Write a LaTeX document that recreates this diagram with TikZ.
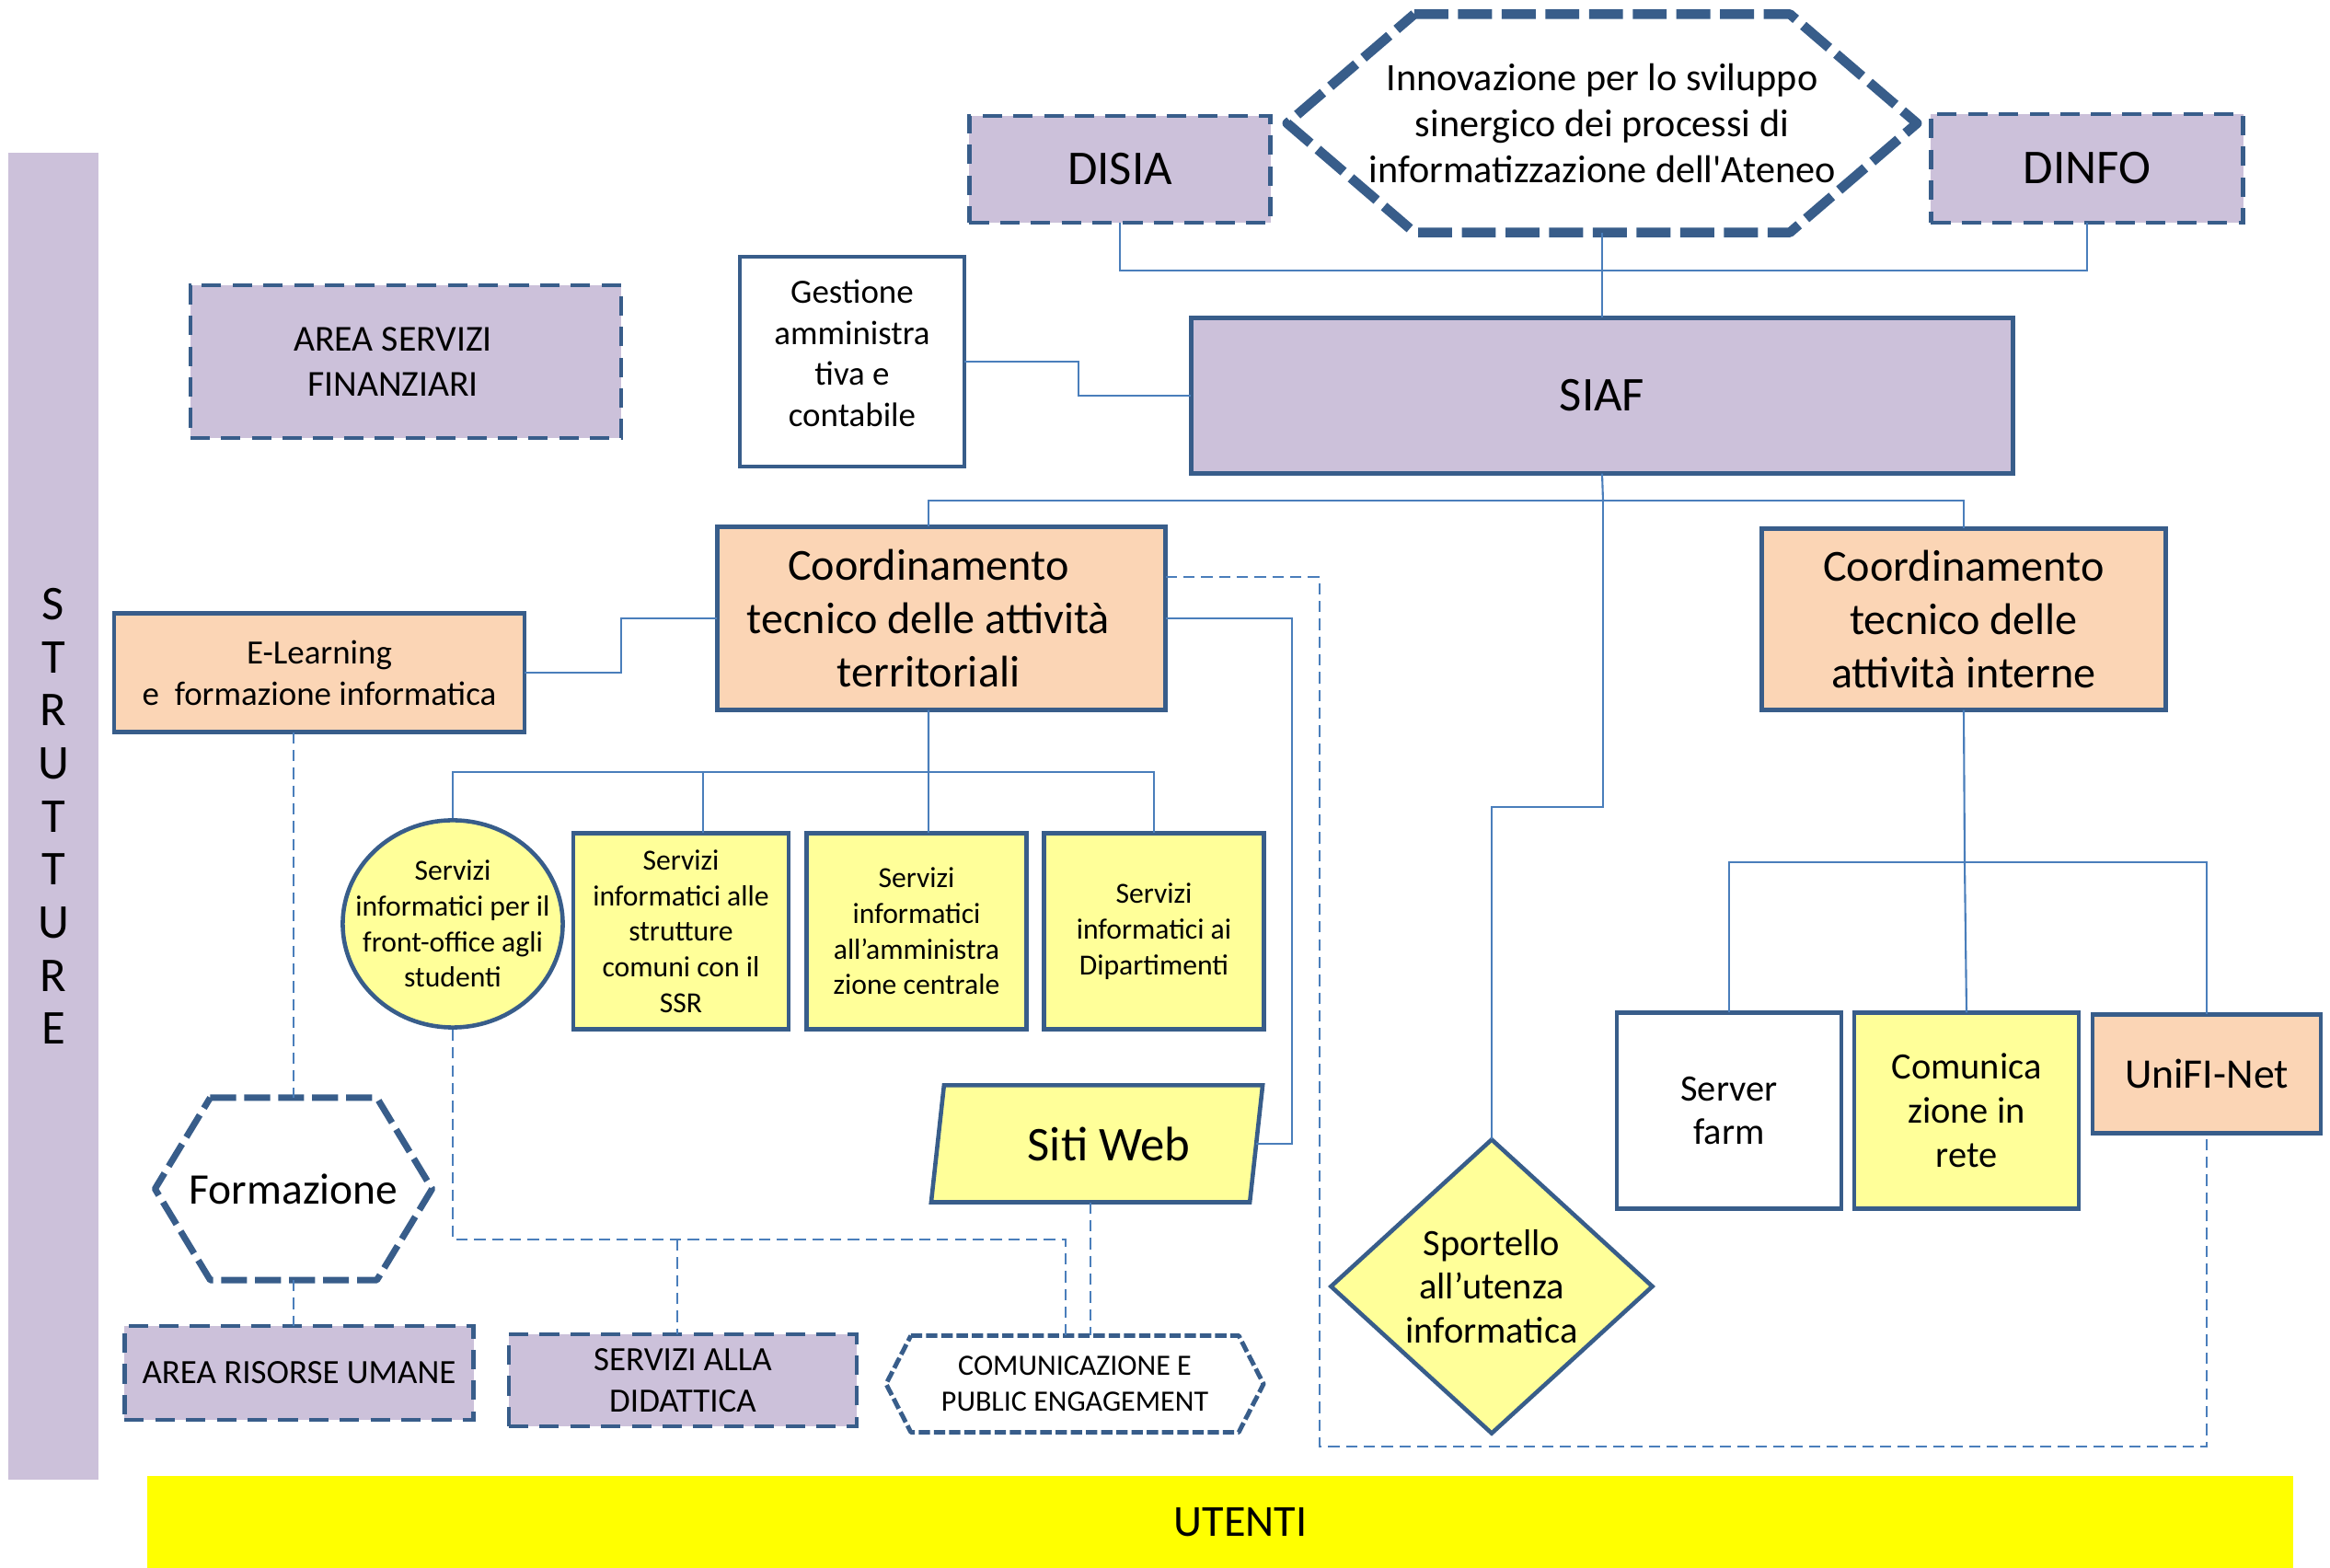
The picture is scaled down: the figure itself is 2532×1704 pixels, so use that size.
\documentclass[tikz,border=0pt]{standalone}
\usepackage{fontspec}
\setmainfont{Carlito}
\usepackage{tikz}
\usetikzlibrary{positioning}
\usetikzlibrary{shapes.geometric}
\usepackage{xcolor}

\definecolor{lilla}{HTML}{CCC1DA}
\definecolor{pesca}{HTML}{FBD5B5}
\definecolor{giallino}{HTML}{FFFF99}
\definecolor{giallo}{HTML}{FFFF00}
\definecolor{bordo}{HTML}{385D8A}
\definecolor{linea}{HTML}{4A7EBB}
\newcommand{\setfs}[2]{\fontsize{#1}{#2}\selectfont}

\begin{document}
\begin{tikzpicture}[x=0.01cm, y=-0.01cm,
    base/.style={align=center, inner sep=1pt, outer sep=0pt},
    box/.style={base, draw=bordo, line width=1.3pt},
    lilbox/.style={base, fill=lilla, draw=bordo, line width=1.3pt, dash pattern=on 6pt off 3.5pt},
    pescabox/.style={box, fill=pesca},
    giallobox/.style={box, fill=giallino, font=\setfs{9}{11}},
    servtext/.style={align=center, font=\setfs{9}{11}},
    coordtext/.style={align=center, font=\setfs{13.7}{16.6}},
    hexline/.style={draw=bordo, line join=round},
    conn/.style={draw=linea, line width=0.6pt},
    dconn/.style={conn, dash pattern=on 3.5pt off 2pt}]
    \useasboundingbox (0,0) rectangle (2532,1704);

    \node[fill=lilla, inner sep=0pt, minimum width=0.97cm, minimum height=14.42cm, align=center, font=\setfs{15}{16.4}] (strutture) at (58,887) {S\\T\\R\\U\\T\\T\\U\\R\\E};
    \node[fill=giallo, inner sep=0pt, minimum width=23.31cm, minimum height=0.99cm, font=\setfs{13.7}{16}] (utenti) at (1326,1654) {\hspace*{0.44cm}UTENTI};

    \node[lilbox, minimum width=3.27cm, minimum height=1.16cm, font=\setfs{15}{18}] (disia) at (1217,184) {DISIA};
    \node[base, minimum width=6.84cm, minimum height=2.37cm, font=\setfs{12}{14.2}] (innov) at (1741,134) {Innovazione per lo sviluppo\\sinergico dei processi di\\informatizzazione dell\textquotesingle Ateneo};
    \draw[hexline, line width=3pt, dash pattern=on 10.5pt off 3pt] ([xshift=1.38cm]innov.north west) -- ([xshift=-1.38cm]innov.north east) -- (innov.east) -- ([xshift=-1.38cm]innov.south east) -- ([xshift=1.38cm]innov.south west) -- (innov.west) -- cycle;
    \node[lilbox, minimum width=3.39cm, minimum height=1.18cm, font=\setfs{15}{18}] (dinfo) at (2268,183) {DINFO};
    \node[box, fill=lilla, minimum width=8.93cm, minimum height=1.69cm, font=\setfs{15}{18}] (siaf) at (1741,430) {SIAF};
    \node[box, fill=white, minimum width=2.44cm, minimum height=2.28cm, label={[align=center, font=\setfs{10.5}{12.7}, yshift=0.9mm]center:Gestione\\amministra\\tiva e\\contabile}] (gest) at (926,393) {};
    \node[lilbox, minimum width=4.68cm, minimum height=1.66cm, label={[align=center, font=\setfs{11.3}{13.8}, xshift=-1.4mm]center:AREA SERVIZI\\FINANZIARI}] (asf) at (441,393) {};

    \node[pescabox, minimum width=4.87cm, minimum height=1.99cm, label={[coordtext, xshift=-1.4mm]center:Coordinamento\\tecnico delle attività\\territoriali}] (terr) at (1023,672) {};
    \node[pescabox, minimum width=4.39cm, minimum height=1.97cm, coordtext] (intern) at (2134,673) {Coordinamento\\tecnico delle\\attività interne};
    \node[pescabox, minimum width=4.46cm, minimum height=1.29cm, font=\setfs{10.5}{12.8}] (elearn) at (347,731) {E-Learning\\e\ \ formazione informatica};

    \node[ellipse, draw=bordo, fill=giallino, line width=1.3pt, inner sep=0pt, minimum width=2.39cm, minimum height=2.25cm, label={[servtext]center:Servizi\\informatici per il\\front-office agli\\studenti}] (front) at (492,1004) {};
    \node[giallobox, minimum width=2.34cm, minimum height=2.13cm] (ssr) at (740,1012) {Servizi\\informatici alle\\strutture\\comuni con il\\SSR};
    \node[giallobox, minimum width=2.39cm, minimum height=2.13cm] (centr) at (996,1012) {Servizi\\informatici\\all’amministra\\zione centrale};
    \node[giallobox, minimum width=2.39cm, minimum height=2.13cm] (dip) at (1254,1012) {Servizi\\informatici ai\\Dipartimenti};

    \node[trapezium, trapezium left angle=77, trapezium right angle=103, trapezium stretches body=true, draw=bordo, fill=giallino, line width=1.3pt, outer sep=0pt, minimum width=3.6cm, minimum height=1.27cm, font=\setfs{15}{18}] (siti) at (1192,1243) {\hspace*{0.26cm}Siti Web};
    \node[diamond, aspect=1.1, draw=bordo, fill=giallino, line width=1.3pt, inner sep=0pt, outer sep=0pt, minimum width=3.49cm, minimum height=3.19cm, align=center, font=\setfs{11.5}{13.6}] (sport) at (1621,1398) {Sportello\\all’utenza\\informatica};

    \node[box, fill=white, minimum width=2.44cm, minimum height=2.13cm, font=\setfs{11.5}{13.4}] (farm) at (1879,1207) {Server\\farm};
    \node[box, fill=giallino, minimum width=2.44cm, minimum height=2.13cm, font=\setfs{11.5}{13.7}] (rete) at (2137,1207) {Comunica\\zione in\\rete};
    \node[pescabox, minimum width=2.48cm, minimum height=1.29cm, font=\setfs{13}{16}] (unifi) at (2398,1167) {UniFI-Net};

    \node[base, minimum width=3.01cm, minimum height=1.98cm, font=\setfs{13.5}{16}] (form) at (319,1292) {Formazione};
    \draw[hexline, line width=2pt, dash pattern=on 8pt off 2.5pt] ([xshift=6mm]form.north west) -- ([xshift=-6mm]form.north east) -- (form.east) -- ([xshift=-6mm]form.south east) -- ([xshift=6mm]form.south west) -- (form.west) -- cycle;
    \node[lilbox, minimum width=3.79cm, minimum height=1.02cm, font=\setfs{10.5}{12.8}] (aru) at (325,1492) {AREA RISORSE UMANE};
    \node[lilbox, minimum width=3.78cm, minimum height=1.0cm, font=\setfs{10.5}{12.8}] (sad) at (742,1500) {SERVIZI ALLA\\DIDATTICA};
    \node[base, minimum width=4.1cm, minimum height=1.05cm, font=\setfs{9.1}{11}] (cpe) at (1168,1504) {COMUNICAZIONE E\\PUBLIC ENGAGEMENT};
    \draw[hexline, line width=1.4pt, dash pattern=on 3.5pt off 1.2pt] ([xshift=2.7mm]cpe.north west) -- ([xshift=-2.7mm]cpe.north east) -- (cpe.east) -- ([xshift=-2.7mm]cpe.south east) -- ([xshift=2.7mm]cpe.south west) -- (cpe.west) -- cycle;

    \coordinate (snodo) at (1742,544);
    \coordinate (sgiu) at (1742,877);
    \coordinate (tbar) at (1009,839);
    \coordinate (ibar) at (2135,937);
    \coordinate (dbar) at (736,1347);
    \coordinate (angolo) at (1434,1572);

    \draw[conn] (disia.south) -- ++(0,52) -| (dinfo.south);
    \draw[conn] (innov.south) -- (siaf.north);
    \draw[conn] (gest.east) -- ++(124,0) |- (siaf.west);
    \draw[conn] (siaf.south) -- (snodo);
    \draw[conn] ([xshift=-1.4mm]terr.north) |- (snodo) -| (intern.north);
    \draw[conn] (snodo) -- (sgiu) -| (sport.north);
    \draw[conn] (elearn.east) -- ++(105,0) |- (terr.west);
    \draw[conn] (terr.east) -- ++(137,0) |- (siti.right side);
    \draw[conn] ([xshift=-1.4mm]terr.south) -- (tbar);
    \draw[conn] (front.north) |- (tbar) -| (dip.north);
    \draw[conn] ([xshift=2.4mm]ssr.north) -- ([xshift=2.4mm]ssr.north |- tbar);
    \draw[conn] ([xshift=1.3mm]centr.north) -- ([xshift=1.3mm]centr.north |- tbar);
    \draw[conn] (intern.south) -- (ibar);
    \draw[conn] (farm.north) |- (ibar) -| (unifi.north);
    \draw[conn] (ibar) -- (rete.north);

    \draw[dconn] ([yshift=4.5mm]terr.east) -| (angolo) -| (unifi.south);
    \draw[dconn] (form.north |- elearn.south) -- (form.north);
    \draw[dconn] (form.south) -- (form.south |- aru.north);
    \draw[dconn] (front.south) |- (dbar) -| ([xshift=-1mm]cpe.north);
    \draw[dconn] (dbar) -- (dbar |- sad.north);
    \draw[dconn] (siti.bottom side) -- (siti.bottom side |- cpe.north);
\end{tikzpicture}
\end{document}
